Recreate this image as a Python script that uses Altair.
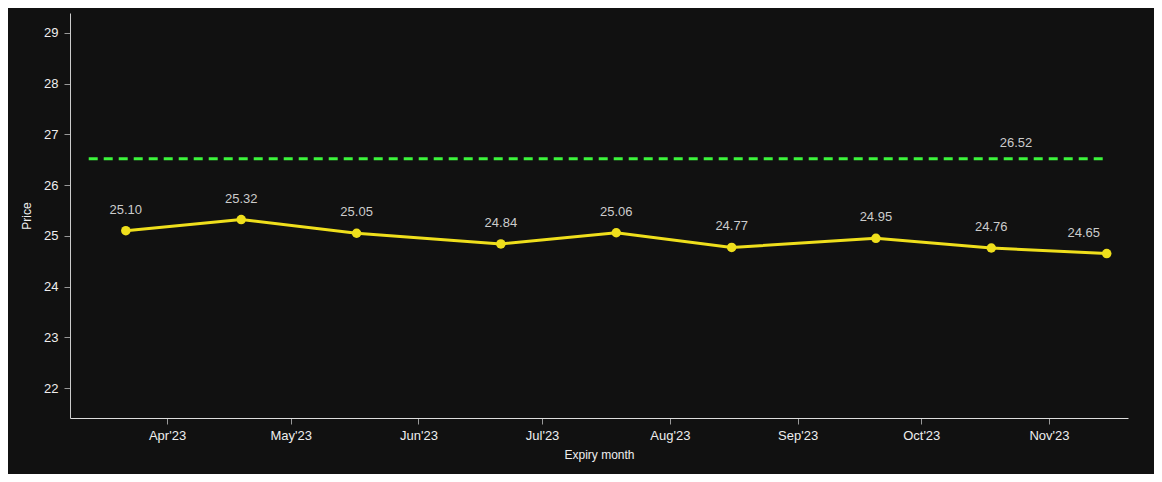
import altair as alt
import pandas as pd

# Data
expiry_dates = ["2023-03-22", "2023-04-19", "2023-05-17", "2023-06-21", "2023-07-19",
                "2023-08-16", "2023-09-20", "2023-10-18", "2023-11-15"]
prices = [25.10, 25.32, 25.05, 24.84, 25.06, 24.77, 24.95, 24.76, 24.65]
spot_price = 26.52
spot_start = "2023-03-13"
spot_end = "2023-11-15"
spot_label_date = "2023-10-24"
y_ticks = [22, 23, 24, 25, 26, 27, 28, 29]
month_ticks = [(2023, m) for m in range(4, 12)]

df = pd.DataFrame({"date": expiry_dates, "price": prices})
df["label"] = [f"{p:.2f}" for p in prices]
df["idx"] = range(len(df))
last_idx = len(df) - 1
spot_df = pd.DataFrame({"start": [spot_start], "end": [spot_end], "price": [spot_price],
                        "ldate": [spot_label_date], "label": [f"{spot_price:.2f}"]})

BG = "#111111"
YELLOW = "#efdf1c"
GREEN = "#3cf53c"
TXT = "#eeeeee"
LBL = "#cccccc"
FONT = "Liberation Sans"

x_scale = alt.Scale(
    type="utc",
    domain=[alt.DateTime(year=2023, month=3, date=8, hours=11, utc=True),
            alt.DateTime(year=2023, month=11, date=20, hours=4, utc=True)],
)
y_scale = alt.Scale(domain=[21.41, 29.39], nice=False, zero=False)

x_axis = alt.Axis(
    title="Expiry month",
    values=[alt.DateTime(year=y, month=m, date=1, utc=True) for y, m in month_ticks],
    labelExpr="utcFormat(datum.value, \"%b'%y\")",
    grid=False, domainColor="#dddddd", tickColor="#999999", tickSize=6,
    labelColor=TXT, labelFont=FONT, labelFontSize=13, labelPadding=5,
    titleColor=TXT, titleFont=FONT, titleFontSize=12, titleFontWeight="normal",
    titlePadding=7,
)
y_axis = alt.Axis(
    title="Price", values=y_ticks, grid=False,
    domainColor="#cccccc", tickColor="#999999", tickSize=6,
    labelColor=TXT, labelFont=FONT, labelFontSize=13, labelPadding=6,
    titleColor=TXT, titleFont=FONT, titleFontSize=12, titleFontWeight="normal",
    titlePadding=10,
)


def X(field):
    return alt.X(field, type="temporal", scale=x_scale, axis=x_axis)


def Y(field):
    return alt.Y(field, type="quantitative", scale=y_scale, axis=y_axis)


base = alt.Chart(df)

spot_line = alt.Chart(spot_df).mark_rule(
    color=GREEN, strokeWidth=3, strokeDash=[9, 6]
).encode(x=X("start"), x2="end:T", y=Y("price"))

spot_text = alt.Chart(spot_df).mark_text(
    color=LBL, font=FONT, fontSize=13, dy=-16, align="center", baseline="middle"
).encode(x=X("ldate"), y=Y("price"), text="label:N")

line = base.mark_line(color=YELLOW, strokeWidth=3).encode(x=X("date"), y=Y("price"))
points = base.mark_circle(color=YELLOW, size=90, opacity=1).encode(x=X("date"), y=Y("price"))

labels = base.transform_filter(alt.datum.idx < last_idx).mark_text(
    color=LBL, font=FONT, fontSize=13, dy=-21, align="center", baseline="middle"
).encode(x=X("date"), y=Y("price"), text="label:N")

last_label = base.transform_filter(alt.datum.idx == last_idx).mark_text(
    color=LBL, font=FONT, fontSize=13, dy=-21, dx=-23, align="center", baseline="middle"
).encode(x=X("date"), y=Y("price"), text="label:N")

chart = alt.layer(spot_line, spot_text, line, points, labels, last_label).properties(
    width=1058,
    height=405,
    background=BG,
    padding={"left": 62, "top": 5, "right": 26, "bottom": 56},
    autosize=alt.AutoSizeParams(type="none"),
).configure_view(stroke=None)

chart.save("out.html", embed_options={"renderer": "svg", "actions": False})
